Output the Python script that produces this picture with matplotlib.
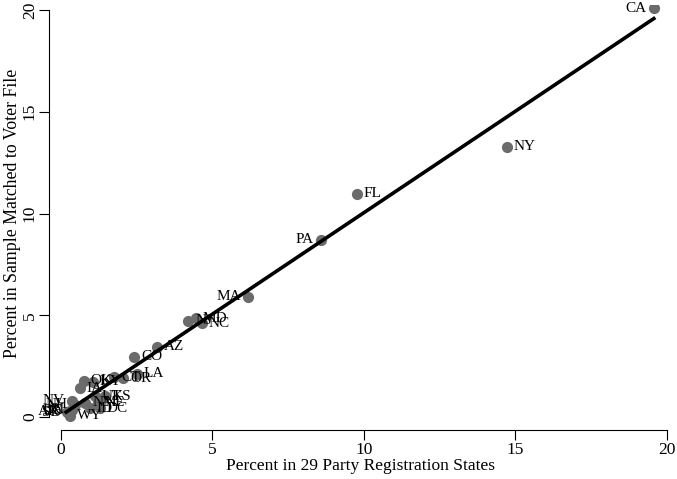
import numpy as np
from matplotlib import pyplot as plt

plt.rcParams['font.family'] = ['Liberation Serif', 'DejaVu Serif']

# state shares (percent)
states = ['CA', 'NY', 'FL', 'PA', 'MA', 'NJ', 'MD', 'NC', 'AZ', 'CO',
          'CT', 'OR', 'LA', 'OK', 'KY', 'IA', 'UT', 'KS', 'NM', 'NE',
          'ID', 'DC', 'WY', 'NV', 'NH', 'AK', 'DE', 'SD', 'RI']
pct_reg = [19.57, 14.72, 9.77, 8.58, 6.17, 4.20, 4.45, 4.65, 3.17, 2.41,
           1.75, 2.05, 2.50, 0.75, 1.05, 0.62, 1.12, 1.45, 0.80, 1.22,
           0.95, 1.28, 0.30, 0.35, 0.45, 0.20, 0.30, 0.25, 0.35]
pct_match = [20.10, 13.27, 10.96, 8.70, 5.90, 4.72, 4.86, 4.60, 3.44, 2.95,
             1.95, 1.90, 2.12, 1.78, 1.72, 1.40, 1.03, 1.03, 0.69, 0.70,
             0.44, 0.44, 0.05, 0.80, 0.60, 0.25, 0.30, 0.20, 0.35]
left_labels = ['CA', 'PA', 'MA', 'NV', 'NH', 'AK', 'DE', 'SD', 'RI']

x = np.array(pct_reg)
y = np.array(pct_match)

fig = plt.figure(figsize=(6.77, 4.79), dpi=100)
ax = fig.add_axes([0.0724, 0.1023, 0.9202, 0.8873])

ax.scatter(x, y, s=65, color='#6b6b6b', zorder=2, linewidths=0)
for st, xi, yi in zip(states, x, y):
    if st in left_labels:
        ax.annotate(st, (xi, yi), xytext=(-5, 0), textcoords='offset points',
                    ha='right', va='center', fontsize=11, zorder=3)
    else:
        ax.annotate(st, (xi, yi), xytext=(5, 0), textcoords='offset points',
                    ha='left', va='center', fontsize=11, zorder=3)

# fitted line over the data range
b, a = np.polyfit(x, y, 1)
xs = np.array([0.17, x.max()])
ax.plot(xs, a + b * xs, color='black', linewidth=2.6, zorder=4)

ax.set_xlim(-0.396, 20.17)
ax.set_ylim(-0.64, 20.25)
ax.set_xticks([0, 5, 10, 15, 20])
ax.set_yticks([0, 5, 10, 15, 20])
ax.tick_params(axis='both', direction='out', length=7, width=0.8, labelsize=12.5)
ax.tick_params(axis='y', labelrotation=90, pad=1)
ax.tick_params(axis='x', pad=2)
for lbl in ax.get_yticklabels():
    lbl.set_va('center')
ax.spines['top'].set_visible(False)
ax.spines['right'].set_visible(False)
ax.spines['left'].set_bounds(0, 20)
ax.spines['bottom'].set_bounds(0, 20)
ax.spines['left'].set_linewidth(0.8)
ax.spines['bottom'].set_linewidth(0.8)

ax.set_xlabel('Percent in 29 Party Registration States', fontsize=12.5, labelpad=0)
ax.set_ylabel('Percent in Sample Matched to Voter File', fontsize=12.8)
ax.yaxis.set_label_coords(-0.045, 0.51)

fig.savefig('out.png', dpi=100)
